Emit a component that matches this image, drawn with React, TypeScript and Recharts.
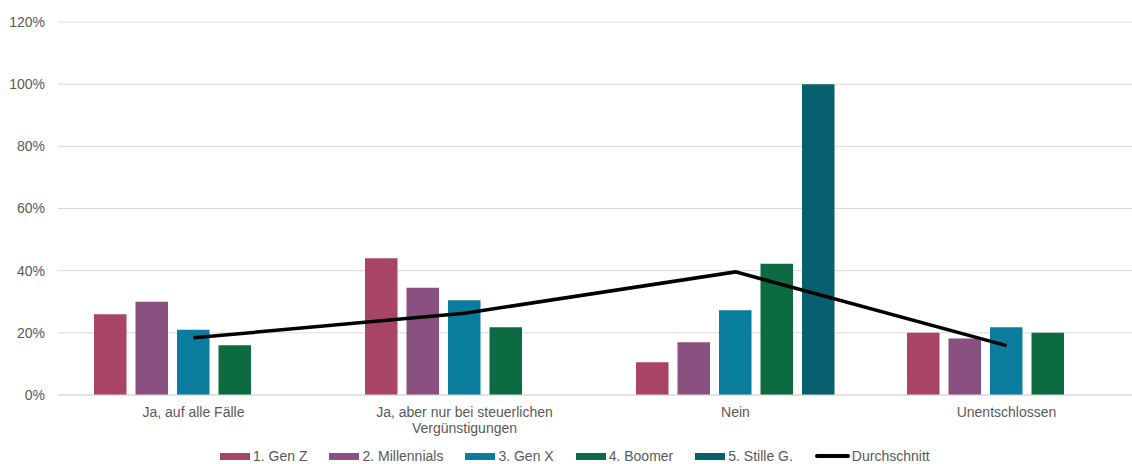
import * as React from 'react';
import { ComposedChart, Bar, Line, XAxis, YAxis, CartesianGrid } from 'recharts';

const categories = [
  'Ja, auf alle Fälle',
  'Ja, aber nur bei steuerlichen\nVergünstigungen',
  'Nein',
  'Unentschlossen',
];
const genZ = [26, 44, 10.5, 20];
const millennials = [30, 34.5, 17, 18.2];
const genX = [21, 30.5, 27.3, 21.8];
const boomer = [16, 21.8, 42.2, 20];
const stille = [null, null, 100, null];
const durchschnitt = [18.4, 26.3, 39.6, 15.9];
const yTicks = [0, 20, 40, 60, 80, 100, 120];

const series = [
  { key: 'genZ', name: '1. Gen Z', color: '#a84466', values: genZ },
  { key: 'millennials', name: '2. Millennials', color: '#8a5080', values: millennials },
  { key: 'genX', name: '3. Gen X', color: '#0a7d9e', values: genX },
  { key: 'boomer', name: '4. Boomer', color: '#0c6b40', values: boomer },
  { key: 'stille', name: '5. Stille G.', color: '#06606e', values: stille },
];

const data = categories.map((c, i) => {
  const row: Record<string, any> = { category: c, avg: durchschnitt[i] };
  series.forEach((s) => {
    row[s.key] = s.values[i];
  });
  return row;
});

const FONT = '"Liberation Sans", Arial, sans-serif';
const TEXT = '#595959';

function CategoryTick({ x, y, payload }: any) {
  const lines = String(payload.value).split('\n');
  return (
    <text x={x} y={y} textAnchor="middle" fill={TEXT} fontSize={14} fontFamily={FONT}>
      {lines.map((l, i) => (
        <tspan key={i} x={x} dy={i === 0 ? 14 : 16}>
          {l}
        </tspan>
      ))}
    </text>
  );
}

export default function App() {
  React.useLayoutEffect(() => {
    document.body.style.margin = '0';
  }, []);

  return (
    <div
      style={{
        position: 'relative',
        width: 1132,
        height: 464,
        overflow: 'hidden',
        background: '#fff',
        fontFamily: FONT,
      }}
    >
      <ComposedChart
        width={1142}
        height={464}
        data={data}
        margin={{ top: 22, right: 0, bottom: 0, left: 0 }}
        barGap={9}
      >
        <CartesianGrid vertical={false} stroke="#d9d9d9" />
        <XAxis
          dataKey="category"
          height={69}
          axisLine={{ stroke: '#d9d9d9' }}
          tickLine={false}
          interval={0}
          tick={<CategoryTick />}
        />
        <YAxis
          width={58}
          domain={[0, 120]}
          ticks={yTicks}
          axisLine={false}
          tickLine={false}
          tickMargin={7}
          tickFormatter={(v) => `${v}%`}
          tick={{ fill: TEXT, fontSize: 14, fontFamily: FONT }}
        />
        {series.map((s) => (
          <Bar
            key={s.key}
            dataKey={s.key}
            name={s.name}
            fill={s.color}
            barSize={32.5}
            isAnimationActive={false}
          />
        ))}
        <Line
          dataKey="avg"
          name="Durchschnitt"
          type="linear"
          stroke="#000"
          strokeWidth={3.5}
          dot={false}
          isAnimationActive={false}
        />
      </ComposedChart>
      <div
        style={{
          position: 'absolute',
          left: 220,
          top: 449,
          height: 14,
          display: 'flex',
          alignItems: 'center',
          gap: 22,
          fontSize: 14,
          lineHeight: '14px',
          color: TEXT,
          whiteSpace: 'nowrap',
        }}
      >
        {series.map((s) => (
          <div key={s.key} style={{ display: 'flex', alignItems: 'center' }}>
            <span style={{ display: 'inline-block', width: 30, height: 7, background: s.color, marginRight: 3 }} />
            <span>{s.name}</span>
          </div>
        ))}
        <div style={{ display: 'flex', alignItems: 'center' }}>
          <span style={{ display: 'inline-block', width: 35, height: 4, background: '#000', borderRadius: 2, marginRight: 2 }} />
          <span>Durchschnitt</span>
        </div>
      </div>
    </div>
  );
}
